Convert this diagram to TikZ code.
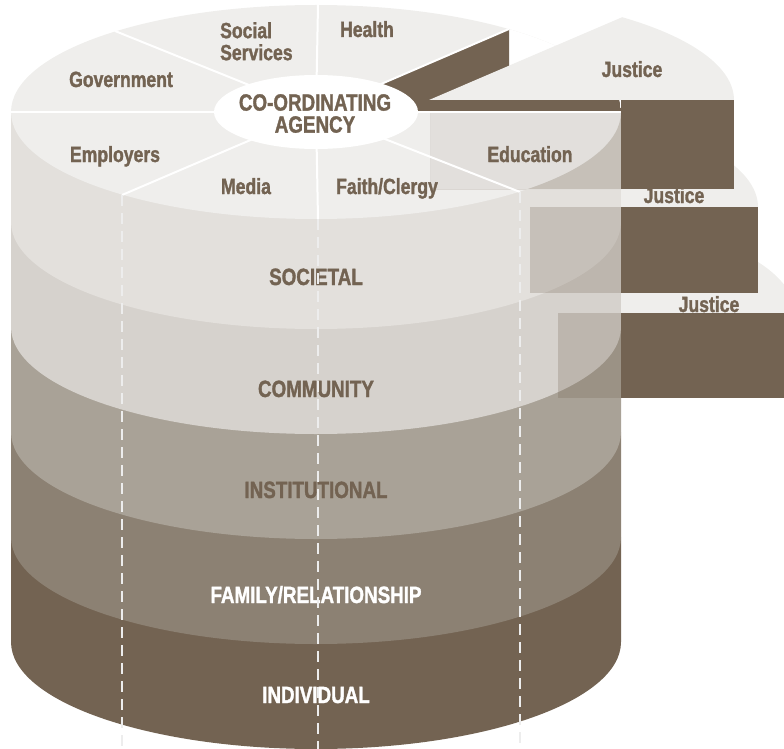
\documentclass[tikz,border=0pt]{standalone}
\usepackage{fontspec}
\setmainfont{Liberation Sans}[FakeStretch=0.8, BoldFont={* Bold}, BoldFeatures={FakeBold=1.4}]
\usepackage{tikz}

\definecolor{topface}{HTML}{EFEEEC}
\definecolor{societalfill}{HTML}{E3E0DC}
\definecolor{communityfill}{HTML}{D6D2CD}
\definecolor{institutionalfill}{HTML}{A9A297}
\definecolor{familyfill}{HTML}{8C8173}
\definecolor{individualfill}{HTML}{736352}
\definecolor{justice}{HTML}{736352}
\definecolor{guidegrey}{HTML}{EDEDED}

\begin{document}
\begin{tikzpicture}[x=1pt, y=-1pt,
	sectortext/.style={font=\fontsize{22}{22}\selectfont\bfseries, text=justice, inner sep=0, anchor=base},
	layertext/.style={font=\fontsize{23.5}{22}\selectfont\bfseries, text=justice, inner sep=0, anchor=base},
	divider/.style={white, line width=2pt},
	guide/.style={guidegrey, line width=2pt, dash pattern=on 11pt off 7pt}]
	
	\useasboundingbox (0,0) rectangle (784,749);
	
	% layers, bottom one first
	\foreach \ytop/\ybot/\col in {537/642/individualfill, 432/537/familyfill, 327/432/institutionalfill, 222/327/communityfill, 112/222/societalfill}
		\fill[\col] (11,\ytop) -- (11,\ybot) arc[start angle=180, end angle=0, x radius=305, y radius=107] -- (621,\ytop) -- cycle;
	\fill[topface] (316,112) ellipse[x radius=305, y radius=107];
	
	% gap left by the justice sector
	\fill[white] (316,112) -- (621,112) arc[start angle=0, end angle=-50.7, x radius=305, y radius=107] -- cycle;
	\begin{scope}
		\clip (316,112) -- (621,112) arc[start angle=0, end angle=-50.7, x radius=305, y radius=107] -- cycle;
		\fill[justice] (316,112) -- (509,29) -- (509,129) -- (316,212) -- cycle;
	\end{scope}
	
	% third justice slab
	\begin{scope}
		\clip (621,0) rectangle (800,749);
		\fill[topface] (490,313) -- (795,313) arc[start angle=0, end angle=-50.7, x radius=305, y radius=107] -- cycle;
		\fill[justice] (558,313) rectangle (800,398);
	\end{scope}
	\fill[justice, fill opacity=.25] (558,313) rectangle (621,398);
	
	% second justice slab
	\begin{scope}
		\clip (621,0) rectangle (800,749);
		\fill[topface] (453,207) -- (758,207) arc[start angle=0, end angle=-50.7, x radius=305, y radius=107] -- cycle;
		\fill[justice] (530,207) rectangle (758,293);
	\end{scope}
	\fill[justice, fill opacity=.25] (530,207) rectangle (621,293);
	
	% first justice slab
	\fill[justice, fill opacity=.1] (430,113) rectangle (621,189);
	\begin{scope}
		\clip (430,113) rectangle (621,189);
		\fill[justice, fill opacity=.17, even odd rule] (430,113) rectangle (621,189) (316,112) ellipse[x radius=305, y radius=107];
	\end{scope}
	\begin{scope}
		\clip (316,112) -- (621,112) arc[start angle=0, end angle=-50.7, x radius=305, y radius=107] -- cycle;
		\fill[justice] (430,100) rectangle (621,189);
	\end{scope}
	\fill[justice] (621,100) rectangle (734,189);
	\fill[topface] (429,100) -- (734,100) arc[start angle=0, end angle=-50.7, x radius=305, y radius=107] -- cycle;
	
	% sector borders
	\foreach \x/\y in {11/112, 115/31, 318/5, 509/29, 621/112, 520/192, 318/219, 122/195}
		\draw[divider] (316,112) -- (\x,\y);
	
	\fill[white] (316,112) ellipse[x radius=102, y radius=37];
	\node[layertext, anchor=north, align=center] (agency) at (315,94) {CO-ORDINATING\\AGENCY};
	
	\node[sectortext] (government) at (121,87) {Government};
	\node[sectortext, anchor=north west, align=left] (social) at (220,22) {Social\\Services};
	\node[sectortext] (health) at (367,37) {Health};
	\node[sectortext] (employers) at (115,162) {Employers};
	\node[sectortext] (media) at (246,194) {Media};
	\node[sectortext] (faith) at (387,194) {Faith/Clergy};
	\node[sectortext] (education) at (530,162) {Education};
	\node[sectortext] (justice1) at (632,77) {Justice};
	\node[sectortext] (justice2) at (674,203) {Justice};
	\node[sectortext] (justice3) at (709,312) {Justice};
	
	\node[layertext] (soc) at (316,285) {SOCIETAL};
	\node[layertext] (com) at (316,397) {COMMUNITY};
	\node[layertext] (inst) at (316,498) {INSTITUTIONAL};
	\node[layertext, text=white] (fam) at (316,603) {FAMILY/RELATIONSHIP};
	\node[layertext, text=white] (ind) at (316,703) {INDIVIDUAL};
	
	\foreach \x/\y in {122/195, 318/219, 520/192}
		\draw[guide] (\x,\y) -- (\x,749);
	
\end{tikzpicture}
\end{document}
